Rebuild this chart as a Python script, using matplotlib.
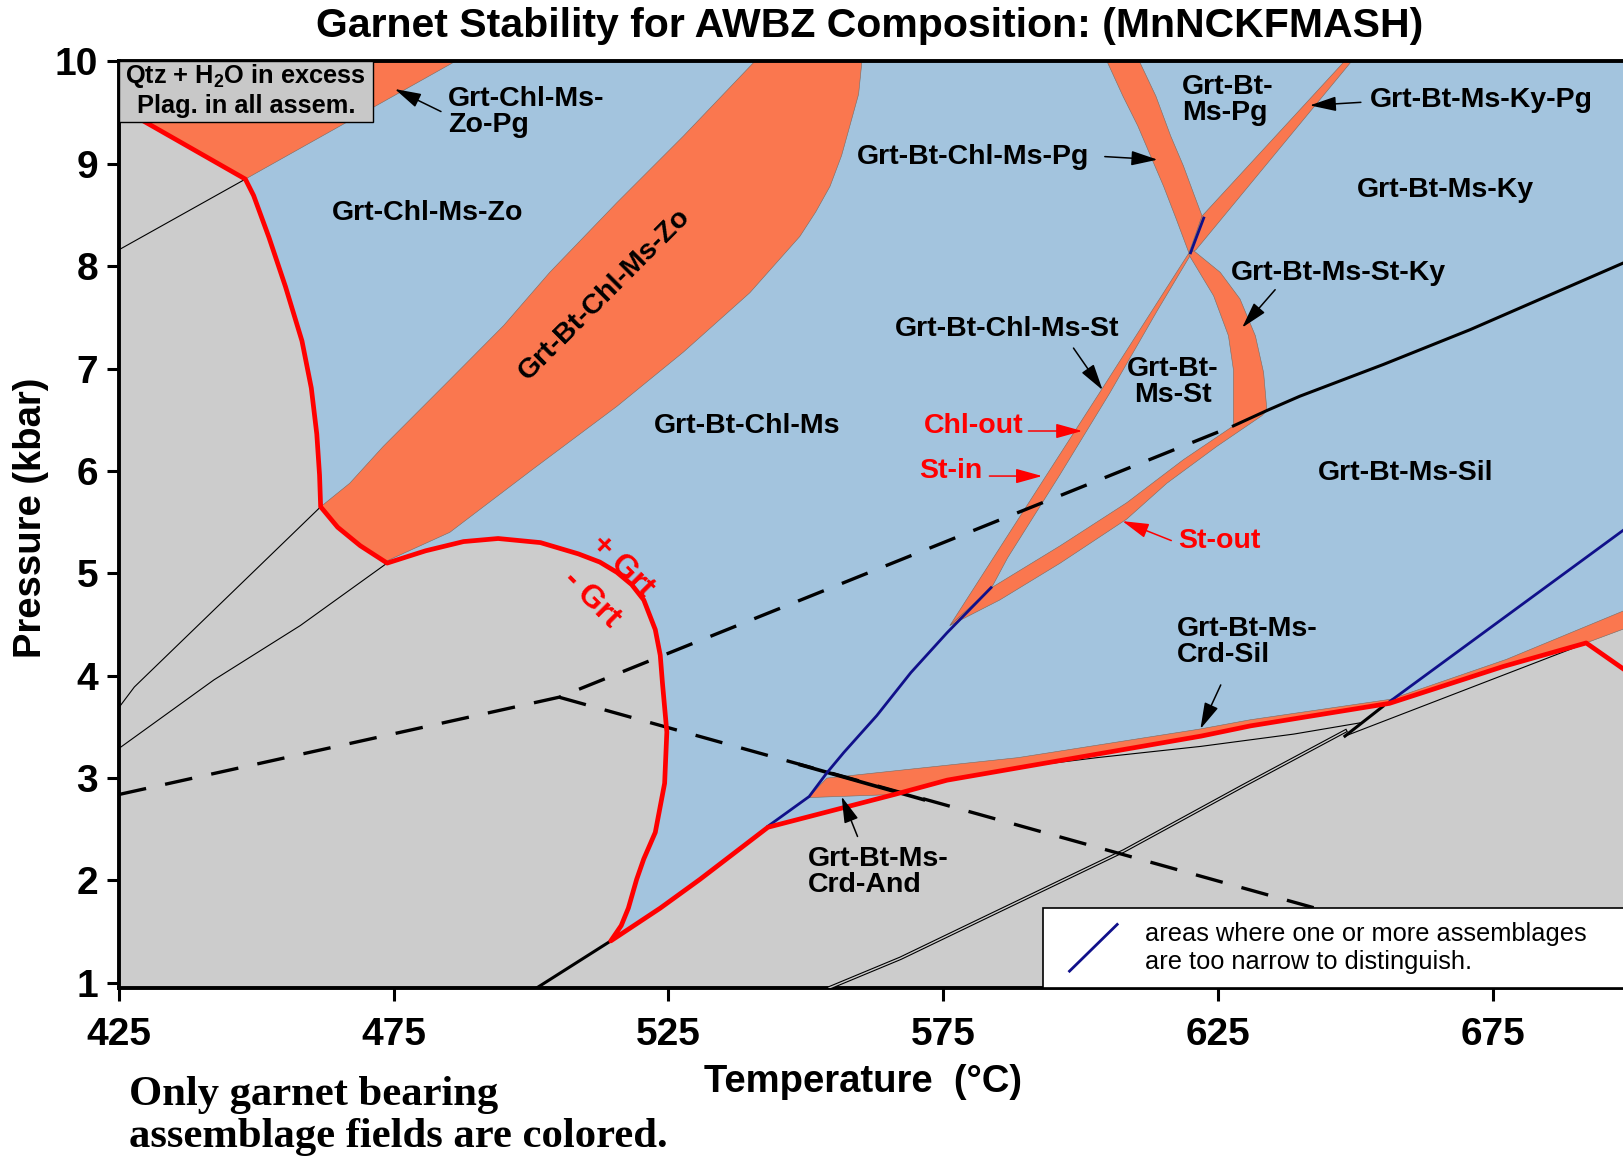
import numpy as np
import matplotlib.pyplot as plt
from matplotlib.patches import Rectangle

plt.rcParams['font.family'] = ['Liberation Sans', 'DejaVu Sans']
plt.rcParams['font.weight'] = 'bold'
plt.rcParams['lines.scale_dashes'] = False
plt.rcParams['mathtext.fontset'] = 'custom'
plt.rcParams['mathtext.rm'] = 'Liberation Sans:bold'
plt.rcParams['mathtext.default'] = 'rm'

BLUE = '#a3c4de'
ORANGE = '#fa774f'
GRAY = '#cccccc'
NAVY = '#10108a'

# garnet-in boundary (thick red), from the top left round to the right edge
grt_in_T = [425.0, 429.7, 448.0, 449.5, 452.3, 455.3, 458.3, 460.0, 461.0, 461.5, 461.7,
            464.8, 468.9, 473.8, 480.8, 487.7, 494.0, 501.7, 508.6, 512.5, 515.6, 518.3,
            520.5, 522.6, 523.5, 523.9, 524.7, 524.3, 522.6, 520.5, 519.2, 517.7, 516.4,
            514.5, 523.5, 530.7, 543.1, 566.1, 575.7, 621.9, 630.9, 656.2, 676.9, 692.0, 700.0]
grt_in_P = [9.56, 9.41, 8.85, 8.69, 8.28, 7.80, 7.27, 6.81, 6.36, 5.96, 5.65,
            5.45, 5.27, 5.10, 5.22, 5.31, 5.34, 5.30, 5.19, 5.11, 5.01, 4.89,
            4.74, 4.45, 4.20, 3.93, 3.45, 2.95, 2.47, 2.21, 2.01, 1.73, 1.56,
            1.41, 1.73, 2.01, 2.52, 2.84, 2.98, 3.41, 3.51, 3.73, 4.09, 4.32, 4.02]

# orange (narrow garnet-bearing) fields
zopg_T = [425.0, 486.2, 448.0, 429.7, 425.0]
zopg_P = [10.0, 10.0, 8.85, 9.41, 9.56]

bczo_T = [461.7, 467.0, 473.1, 485.2, 495.0, 503.4, 515.6, 527.7, 540.7, 560.2, 559.6,
          558.0, 556.5, 554.4, 551.8, 548.9, 539.8, 527.7, 515.6, 500.4, 485.2, 473.7,
          468.9, 464.8]
bczo_P = [5.65, 5.88, 6.24, 6.89, 7.42, 7.94, 8.62, 9.27, 10.0, 10.0, 9.68,
          9.37, 9.08, 8.78, 8.53, 8.29, 7.74, 7.16, 6.63, 6.02, 5.40, 5.12,
          5.27, 5.45]

pg_T = [604.8, 607.7, 610.4, 612.7, 615.1, 617.4, 619.7, 622.1, 620.7, 618.7, 616.4, 613.7, 610.7]
pg_P = [10.0, 9.66, 9.37, 9.08, 8.78, 8.46, 8.13, 8.49, 8.69, 8.98, 9.27, 9.66, 10.0]

kypg_T = [619.8, 622.1, 648.0, 649.3, 621.0]
kypg_P = [8.12, 8.49, 10.0, 10.0, 8.16]

stky_T = [619.6, 624.2, 626.9, 627.8, 627.8, 633.9, 633.3, 631.8, 629.0, 625.4, 620.6]
stky_P = [8.12, 7.71, 7.32, 6.99, 6.44, 6.59, 6.96, 7.32, 7.68, 7.94, 8.15]

chlst_T = [619.6, 603.4, 593.8, 584.1, 576.2, 583.8, 586.7, 596.2, 605.3, 614.0, 619.9]
chlst_P = [8.12, 6.76, 5.96, 5.15, 4.49, 4.86, 5.15, 5.96, 6.76, 7.57, 8.10]

stout_T = [627.8, 618.7, 608.4, 596.3, 583.8, 576.2, 585.3, 596.3, 608.4, 615.7, 624.8, 633.0, 633.9]
stout_P = [6.44, 6.11, 5.69, 5.27, 4.86, 4.49, 4.74, 5.10, 5.53, 5.88, 6.24, 6.54, 6.59]

crd_T = [550.6, 553.8, 588.6, 621.8, 630.9, 656.4, 677.5, 700.0, 700.0, 692.0, 676.9,
         656.2, 630.9, 621.9, 575.7, 566.1, 550.6]
crd_P = [2.82, 3.00, 3.20, 3.48, 3.57, 3.77, 4.16, 4.66, 4.48, 4.32, 4.09,
         3.73, 3.51, 3.41, 2.98, 2.84, 2.81]

# thin black reaction lines in the garnet-free field
thin1_T, thin1_P = [448.0, 425.0], [8.85, 8.16]
thin2_T, thin2_P = [461.7, 427.8, 425.0], [5.65, 3.89, 3.69]
thin3_T, thin3_P = [473.8, 458.0, 442.3, 425.0], [5.10, 4.49, 3.96, 3.29]
thin4_T, thin4_P = [648.1, 692.1], [3.41, 4.32]
thin5_T = [575.7, 586.5, 603.0, 621.9, 638.8, 650.9]
thin5_P = [2.98, 3.09, 3.20, 3.31, 3.43, 3.54]
dbl_T = [554.2, 567.2, 582.3, 607.9, 629.4, 648.2]
dbl_P = [0.95, 1.24, 1.63, 2.29, 2.92, 3.46]
short_T, short_P = [648.1, 655.0], [3.41, 3.70]
base_T, base_P = [501.0, 514.5], [0.95, 1.41]

# aluminosilicate lines
andky_T, andky_P = [425.0, 505.1, 627.8], [2.84, 3.79, 6.44]
andsil_T, andsil_P = [505.1, 642.7], [3.79, 1.73]
andsil_solid_T, andsil_solid_P = [549.0, 571.4], [3.13, 2.79]
kysil_T = [627.8, 633.9, 639.9, 655.1, 670.9, 700.0]
kysil_P = [6.44, 6.59, 6.73, 7.04, 7.38, 8.06]

# too-narrow fields (navy)
navy_lo_T = [543.1, 550.6, 553.8, 556.9, 562.9, 569.1, 575.7, 583.7]
navy_lo_P = [2.53, 2.82, 3.05, 3.25, 3.61, 4.03, 4.42, 4.86]
navy_hi_T, navy_hi_P = [656.3, 700.0], [3.75, 5.47]
navy_ip_T, navy_ip_P = [622.4, 620.0], [8.47, 8.13]

x_ticks = [425, 475, 525, 575, 625, 675]
y_ticks = [1, 2, 3, 4, 5, 6, 7, 8, 9, 10]

fig = plt.figure(figsize=(16.23, 11.58), dpi=100)
ax = fig.add_axes([0.0733, 0.1468, 0.9267, 0.8002])
ax.set_facecolor(BLUE)
ax.set_xlim(425, 698.7)
ax.set_ylim(0.95, 10.0)

# garnet-free field
gray_T = grt_in_T[:-1] + [700.0, 700.0, 420.0, 420.0]
gray_P = grt_in_P[:-1] + [4.48, 0.5, 0.5, 9.56]
ax.fill(gray_T, gray_P, color=GRAY, lw=0, zorder=1)

for tt, pp in [(zopg_T, zopg_P), (bczo_T, bczo_P), (pg_T, pg_P), (kypg_T, kypg_P),
               (stky_T, stky_P), (chlst_T, chlst_P), (stout_T, stout_P), (crd_T, crd_P)]:
    ax.fill(tt, pp, facecolor=ORANGE, edgecolor='#7a6a60', lw=0.4, zorder=2)

for tt, pp in [(thin1_T, thin1_P), (thin2_T, thin2_P), (thin3_T, thin3_P),
               (thin4_T, thin4_P), (thin5_T, thin5_P)]:
    ax.plot(tt, pp, color='black', lw=0.8, zorder=3)
ax.plot(dbl_T, dbl_P, color='black', lw=2.6, zorder=3)
ax.plot(dbl_T, dbl_P, color=GRAY, lw=1.0, zorder=3)
ax.plot(short_T, short_P, color='black', lw=2.2, zorder=3)
ax.plot(base_T, base_P, color='black', lw=2.2, zorder=3)

ax.plot(andky_T, andky_P, color='black', lw=2.4, dashes=(20, 14), zorder=3)
ax.plot(andsil_T, andsil_P, color='black', lw=2.4, dashes=(20, 14), zorder=3)
ax.plot(andsil_solid_T, andsil_solid_P, color='black', lw=2.6, zorder=3)
ax.plot(kysil_T, kysil_P, color='black', lw=2.2, zorder=3)

for tt, pp in [(navy_lo_T, navy_lo_P), (navy_hi_T, navy_hi_P), (navy_ip_T, navy_ip_P)]:
    ax.plot(tt, pp, color=NAVY, lw=2.0, zorder=4)

ax.plot(grt_in_T, grt_in_P, color='red', lw=3.4, zorder=5, solid_joinstyle='round')

# field labels
lab = dict(fontsize=20.5, fontweight='bold', zorder=6)
ax.text(484.9, 9.51, 'Grt-Chl-Ms-\nZo-Pg', ha='left', va='center', linespacing=1.0, **lab)
ax.text(481.1, 8.52, 'Grt-Chl-Ms-Zo', ha='center', va='center', **lab)
ax.text(513.4, 7.72, 'Grt-Bt-Chl-Ms-Zo', ha='center', va='center', rotation=45, **lab)
ax.text(539.4, 6.44, 'Grt-Bt-Chl-Ms', ha='center', va='center', **lab)
ax.text(580.4, 9.07, 'Grt-Bt-Chl-Ms-Pg', ha='center', va='center', **lab)
ax.text(618.4, 9.62, 'Grt-Bt-\nMs-Pg', ha='left', va='center', linespacing=1.0, **lab)
ax.text(652.6, 9.62, 'Grt-Bt-Ms-Ky-Pg', ha='left', va='center', **lab)
ax.text(666.3, 8.74, 'Grt-Bt-Ms-Ky', ha='center', va='center', **lab)
ax.text(646.9, 7.93, 'Grt-Bt-Ms-St-Ky', ha='center', va='center', **lab)
ax.text(586.6, 7.39, 'Grt-Bt-Chl-Ms-St', ha='center', va='center', **lab)
ax.text(616.8, 6.87, 'Grt-Bt-\nMs-St', ha='center', va='center', linespacing=1.0, **lab)
ax.text(659.2, 5.98, 'Grt-Bt-Ms-Sil', ha='center', va='center', **lab)
ax.text(617.5, 4.33, 'Grt-Bt-Ms-\nCrd-Sil', ha='left', va='center', linespacing=1.0, **lab)
ax.text(550.3, 2.08, 'Grt-Bt-Ms-\nCrd-And', ha='left', va='center', linespacing=1.0, **lab)

red = dict(fontsize=20.5, fontweight='bold', color='red', zorder=6)
ax.text(580.5, 6.44, 'Chl-out', ha='center', va='center', **red)
ax.text(576.4, 6.00, 'St-in', ha='center', va='center', **red)
ax.text(625.2, 5.32, 'St-out', ha='center', va='center', **red)
ax.text(516.6, 5.07, '+ Grt', ha='center', va='center', rotation=-45, fontsize=23,
        fontweight='bold', color='red', zorder=6)
ax.text(511.0, 4.75, '- Grt', ha='center', va='center', rotation=-45, fontsize=23,
        fontweight='bold', color='red', zorder=6)


def arrow(tail, tip, color='black'):
    ax.annotate('', xy=tip, xytext=tail, zorder=6,
                arrowprops=dict(arrowstyle='-|>,head_length=0.9,head_width=0.25',
                                color=color, lw=1.1, mutation_scale=18,
                                shrinkA=0, shrinkB=0))


arrow((483.6, 9.51), (475.2, 9.73))
arrow((604.4, 9.07), (614.0, 9.04))
arrow((651.0, 9.60), (641.7, 9.57))
arrow((635.4, 7.77), (629.4, 7.40))
arrow((598.7, 7.20), (604.0, 6.79))
arrow((625.5, 3.91), (621.8, 3.48))
arrow((559.4, 2.43), (556.5, 2.82))
arrow((590.5, 6.39), (600.3, 6.39), 'red')
arrow((583.4, 5.95), (593.0, 5.95), 'red')
arrow((616.5, 5.32), (607.6, 5.51), 'red')

# inset notes
ax.add_patch(Rectangle((0, 0.935), 0.1686, 0.065, transform=ax.transAxes,
                       facecolor='#c8c8c8', edgecolor='black', lw=1.0, zorder=7))
ax.text(0.0843, 0.984, 'Qtz + H$_2$O in excess', transform=ax.transAxes,
        ha='center', va='center', fontsize=18.3, zorder=8)
ax.text(0.0843, 0.952, 'Plag. in all assem.', transform=ax.transAxes,
        ha='center', va='center', fontsize=18.3, zorder=8)

ax.add_patch(Rectangle((0.6142, 0), 0.39, 0.0866, transform=ax.transAxes,
                       facecolor='white', edgecolor='black', lw=1.2, zorder=7))
ax.plot([0.632, 0.6637], [0.0182, 0.0686], transform=ax.transAxes, color=NAVY, lw=2.0, zorder=8)
ax.text(0.682, 0.0435, 'areas where one or more assemblages\nare too narrow to distinguish.',
        transform=ax.transAxes, ha='left', va='center', fontsize=18.3,
        fontweight='normal', linespacing=1.2, zorder=8)

ax.set_xticks(x_ticks)
ax.set_yticks(y_ticks)
ax.tick_params(axis='both', direction='out', length=9, width=2.2, labelsize=28)
ax.tick_params(axis='x', pad=12)
ax.tick_params(axis='y', pad=6)
for s in ['top', 'left', 'bottom']:
    ax.spines[s].set_linewidth(2.8)
ax.spines['right'].set_visible(False)

fig.text(0.5357, 0.9775, 'Garnet Stability for AWBZ Composition: (MnNCKFMASH)',
         ha='center', va='center', fontsize=29.5, fontweight='bold')
fig.text(0.532, 0.066, 'Temperature  (°C)', ha='center', va='center', fontsize=27.5, fontweight='bold')
fig.text(0.019, 0.553, 'Pressure (kbar)', ha='center', va='center', rotation=90,
         fontsize=27.5, fontweight='bold')
fig.text(0.0797, 0.036, 'Only garnet bearing\nassemblage fields are colored.',
         family='Liberation Serif', fontweight='bold', fontsize=30.7,
         ha='left', va='center', linespacing=1.15)

fig.savefig('out.png', dpi=100)
